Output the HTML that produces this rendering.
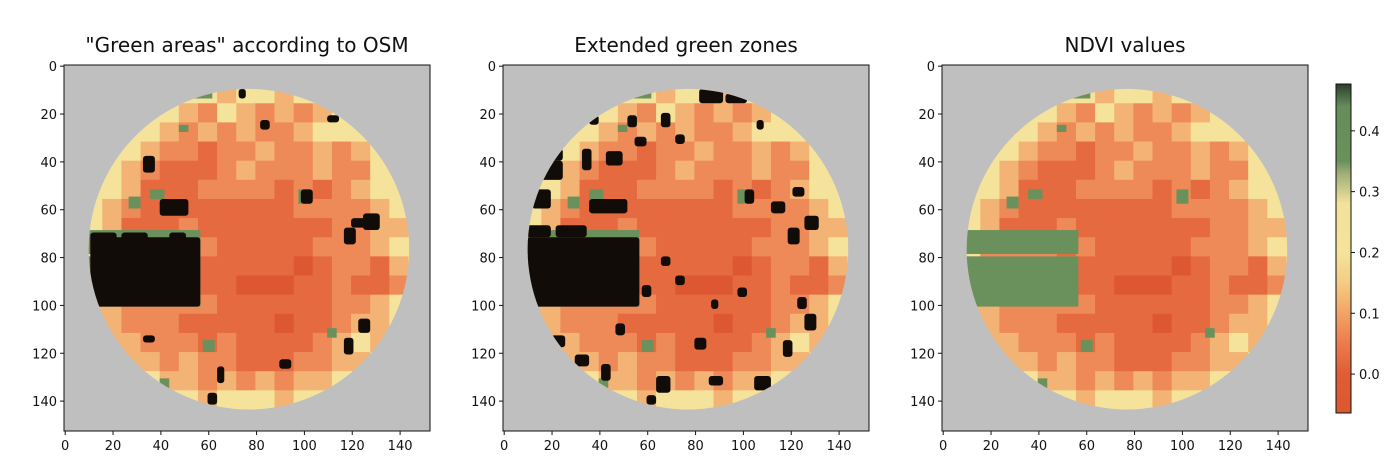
<!DOCTYPE html>
<html><head><meta charset="utf-8">
<style>
html,body{margin:0;padding:0;background:#fff;}
svg{display:block;font-family:"DejaVu Sans","Liberation Sans",sans-serif;}
</style></head>
<body>
<svg id="fig" width="1400" height="475" viewBox="0 0 1400 475"></svg>
<script>
// ---- data ----
const blockSize = 8;
const ndviLevels = {a:-0.02, b:0.04, c:0.09, d:0.15, e:0.21, f:0.26, g:0.42};
const ndviRows = [
"eeeeeeeeeeeeeeeeeee",
"eeeeeeeedeedeeeeeee",
"eeeeeedcedcdcdeeeee",
"eeeeedcdcdccdeeeeee",
"eeeedccbccdccdcdeee",
"eeedcbbbcdcccdcceee",
"eeedbbbccccbcbcdeee",
"eedcbbbbbbbbccccdee",
"eedbbbcbbbbbbbccdde",
"eeccccbcbbbbbcccdee",
"edcccccbbbbbabccbde",
"edccccdbbaaabbcbbce",
"eddcccccbbbbbbccdee",
"eedcccbbbbbabbcddee",
"eeddcccbcbbbbcdedee",
"eeeddcdccbbbccddeee",
"eeeeeddcdcdcddeeeee",
"eeeeeeedeeedeeeeeee",
"eeeeeeeeeeeeeeeeeee"];
const parks = [[10,69,57,79,0.42],[10,80,57,101,0.42],[54,10,62,14,0.42],[36,52,42,56,0.40],[25,21,28,24,0.40],[48,25,52,28,0.40],[98,52,103,58,0.40],[40,131,44,138,0.40],[58,115,63,120,0.40],[27,55,32,60,0.38],[128,130,132,134,0.40],[110,110,114,114,0.40]];
const osmAreas = [[11,72,57,101],[11,70,22,74],[24,70,35,74],[44,70,51,74],[40,56,52,63],[33,38,38,45],[99,52,104,58],[120,64,128,68],[125,62,132,69],[117,68,122,75],[117,114,121,121],[123,106,128,112],[110,21,115,24],[73,10,76,14],[82,23,86,27],[64,126,67,133],[60,137,64,142],[33,113,38,116],[90,123,95,127]];
const extAreas = [[10,72,57,101],[10,67,20,72],[22,67,35,72],[36,56,52,62],[12,52,20,60],[12,40,25,48],[17,35,25,40],[36,21,40,25],[52,21,56,26],[43,36,50,42],[66,20,70,26],[82,10,92,16],[93,12,102,16],[106,23,109,27],[72,29,76,33],[55,30,60,34],[101,52,105,58],[119,68,124,75],[126,63,132,69],[112,57,118,62],[121,51,126,55],[126,104,131,111],[123,97,127,102],[117,115,121,122],[98,93,102,97],[80,114,85,119],[64,130,70,137],[60,138,64,142],[41,125,45,132],[30,121,36,126],[20,113,26,118],[86,130,92,134],[105,130,112,136],[47,108,51,113],[58,92,62,97],[72,88,76,92],[87,98,90,102],[66,80,70,84],[33,35,37,44]];
const cbTicks = [0.0,0.1,0.2,0.3,0.4];
const axTicks = [0,20,40,60,80,100,120,140];
const titles = ['"Green areas" according to OSM','Extended green zones','NDVI values'];

// ---- layout ----
const NS="http://www.w3.org/2000/svg";
const svg=document.getElementById('fig');
const panelLeft=[64,503,942], topY=65, size=366, N=153;
const unit=size/N;
const vmin=-0.064, vmax=0.477, cbX=1336, cbW=15, cbTop=84, cbBot=413;
function mk(t,a,p){const e=document.createElementNS(NS,t);for(const k in a)e.setAttribute(k,a[k]);(p||svg).appendChild(e);return e;}
function cmap(v){
  if(v<0.02) return '#dd5832';
  if(v<0.07) return '#e66a3f';
  if(v<0.12) return '#ee8a57';
  if(v<0.17) return '#f3b374';
  if(v<0.31) return '#f5e39b';
  return '#6a915c';
}
function xs(p,u){return panelLeft[p]+(u+0.5)*unit;}
function ys(u){return topY+(u+0.5)*unit;}
const defs=mk('defs',{});
for(let p=0;p<3;p++){
  const L=panelLeft[p];
  const cp=mk('clipPath',{id:'circ'+p},defs);
  mk('circle',{cx:xs(p,76.8),cy:ys(76.5),r:67*unit},cp);
  const ax=mk('g',{});
  
  
  const bg=mk('rect',{x:L,y:topY,width:size,height:size,fill:'#bfbfbf'},ax);
  
  
  const hm=mk('g',{'clip-path':'url(#circ'+p+')'},ax);
  
  
  ndviRows.forEach((row,r)=>{
    for(let c=0;c<row.length;c++){
      const v=ndviLevels[row[c]];
      const cell=mk('rect',{x:xs(p,c*blockSize-0.5),y:ys(r*blockSize-0.5),width:blockSize*unit+0.5,height:blockSize*unit+0.5,fill:cmap(v)},hm);
      
      
    }
  });
  parks.forEach(k=>{
    const e=mk('rect',{x:xs(p,k[0]-0.5),y:ys(k[1]-0.5),width:(k[2]-k[0])*unit,height:(k[3]-k[1])*unit,fill:cmap(k[4])},hm);
    
    
  });
  const areas=p===0?osmAreas:(p===1?extAreas:[]);
  areas.forEach(k=>{
    const e=mk('rect',{x:xs(p,k[0]-0.5),y:ys(k[1]-0.5),width:(k[2]-k[0])*unit,height:(k[3]-k[1])*unit,fill:'#120c08',rx:3},hm);
    
    
  });
  const fr=mk('rect',{x:L,y:topY,width:size,height:size,fill:'none',stroke:'#111',"stroke-width":1},ax);
  
  
  axTicks.forEach(t=>{
    mk('line',{x1:xs(p,t),x2:xs(p,t),y1:topY+size,y2:topY+size+4,stroke:'#111'},ax);
    const tx=mk('text',{x:xs(p,t),y:topY+size+19,'font-size':13,'text-anchor':'middle',fill:'#111'},ax);
    tx.textContent=t;
    
    
    mk('line',{x1:L-4,x2:L,y1:ys(t),y2:ys(t),stroke:'#111'},ax);
    const ty=mk('text',{x:L-7,y:ys(t)+5,'font-size':13,'text-anchor':'end',fill:'#111'},ax);
    ty.textContent=t;
    
    
  });
  const ti=mk('text',{x:L+size/2,y:52,'font-size':20,'text-anchor':'middle',fill:'#111'},ax);
  ti.textContent=titles[p];
  
  
}
// colorbar
function cby(v){return cbBot-(v-vmin)/(vmax-vmin)*(cbBot-cbTop);}
const cb=mk('g',{});


const lg=mk('linearGradient',{id:'cbg',x1:0,y1:1,x2:0,y2:0},defs);
[[vmin,'#dc572f'],[0.0,'#df5d35'],[0.05,'#ec7b4c'],[0.1,'#f2a466'],[0.15,'#f4cc85'],[0.2,'#f5e39b'],[0.28,'#f3e29c'],[0.33,'#9fae78'],[0.35,'#6a915c'],[0.44,'#668d5a'],[vmax,'#2e3e2c']].forEach(s=>{
  mk('stop',{offset:(s[0]-vmin)/(vmax-vmin),'stop-color':s[1]},lg);
});
mk('rect',{x:cbX,y:cbTop,width:cbW,height:cbBot-cbTop,fill:'url(#cbg)',stroke:'#111'},cb);
cbTicks.forEach(t=>{
  mk('line',{x1:cbX+cbW,x2:cbX+cbW+4,y1:cby(t),y2:cby(t),stroke:'#111'},cb);
  const e=mk('text',{x:cbX+cbW+8,y:cby(t)+5,'font-size':13,fill:'#111'},cb);
  e.textContent=t.toFixed(1);
  
  
});
</script>
</body></html>
